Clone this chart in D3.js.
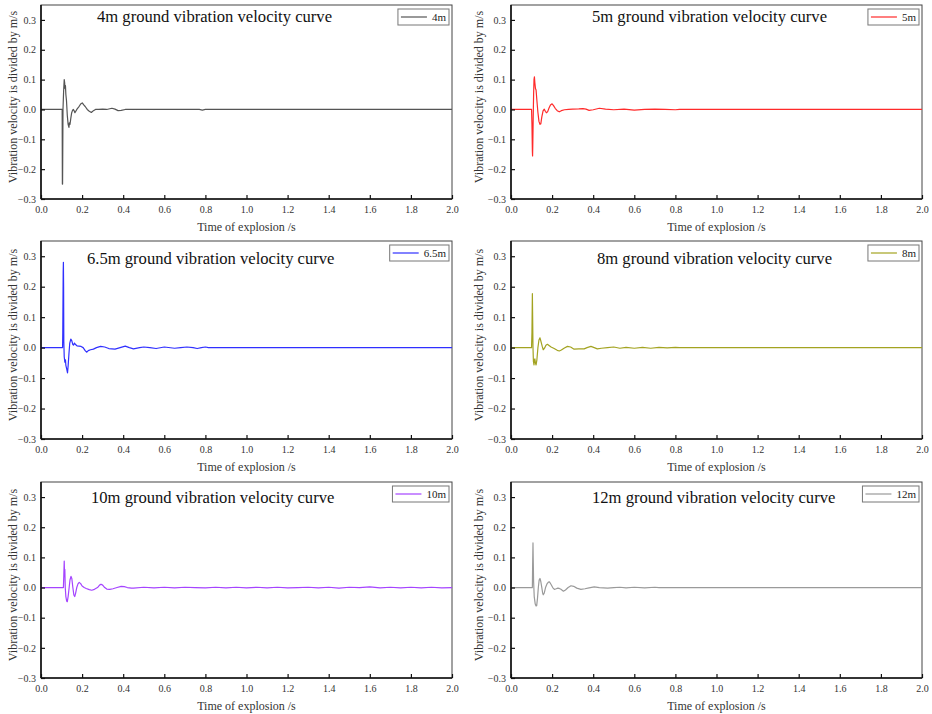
<!DOCTYPE html>
<html>
<head>
<meta charset="utf-8">
<script src="https://cdn.jsdelivr.net/npm/d3@7"></script>
<style>
  html, body { margin: 0; padding: 0; background: #fff; }
  svg { display: block; }
  text { font-family: "Liberation Serif", "Times New Roman", serif; }
</style>
</head>
<body>
<svg id="chart" width="932" height="714"></svg>
<script>
// ---------------- DATA ----------------
const seriesNames = ["4m", "5m", "6.5m", "8m", "10m", "12m"];
const titleTexts = [
  "4m ground vibration velocity curve",
  "5m ground vibration velocity curve",
  "6.5m ground vibration velocity curve",
  "8m ground vibration velocity curve",
  "10m ground vibration velocity curve",
  "12m ground vibration velocity curve"
];
const xTicks = [0.0, 0.2, 0.4, 0.6, 0.8, 1.0, 1.2, 1.4, 1.6, 1.8, 2.0];
const yTicks = [-0.3, -0.2, -0.1, 0.0, 0.1, 0.2, 0.3];
const xLabel = "Time of explosion /s";
const yLabel = "Vibration velocity is divided by m/s";

// [time (s), velocity (m/s)]
const wave4m = [[0,0],[0.103,0],[0.104,-0.25],[0.105,-0.25],[0.107,0.0],[0.110,0.06],[0.113,0.1],[0.115,0.09],[0.117,0.07],[0.119,0.08],[0.121,0.05],[0.124,0.03],[0.128,-0.02],[0.132,-0.05],[0.136,-0.06],[0.138,-0.045],[0.141,-0.05],[0.145,-0.03],[0.149,-0.012],[0.153,-0.004],[0.157,0],[0.161,-0.004],[0.165,-0.011],[0.170,-0.005],[0.176,0.002],[0.183,0.008],[0.190,0.015],[0.196,0.02],[0.201,0.022],[0.207,0.016],[0.215,0.01],[0.225,0.0],[0.235,-0.006],[0.245,-0.01],[0.255,-0.004],[0.265,0],[0.28,0],[0.30,0.001],[0.32,0],[0.345,0.004],[0.36,0.001],[0.375,-0.004],[0.39,-0.003],[0.41,0],[0.43,0],[0.5,0],[0.6,0],[0.7,0],[0.77,0],[0.785,-0.002],[0.8,0],[0.88,0],[2.0,0]];
const wave5m = [[0,0],[0.1,0],[0.102,-0.05],[0.104,-0.14],[0.105,-0.156],[0.106,-0.12],[0.108,-0.03],[0.110,0.05],[0.112,0.1],[0.114,0.109],[0.116,0.09],[0.119,0.07],[0.122,0.065],[0.126,0.03],[0.131,-0.01],[0.136,-0.04],[0.141,-0.05],[0.145,-0.048],[0.150,-0.025],[0.156,-0.005],[0.162,0.001],[0.167,-0.006],[0.172,-0.011],[0.178,-0.008],[0.185,0.005],[0.192,0.015],[0.2,0.019],[0.207,0.013],[0.215,0.004],[0.225,-0.004],[0.235,-0.008],[0.245,-0.004],[0.26,-0.001],[0.28,0],[0.3,0.001],[0.33,0.002],[0.35,0.003],[0.365,0.001],[0.38,-0.003],[0.4,-0.001],[0.43,0.004],[0.46,0.001],[0.5,-0.001],[0.55,0.001],[0.6,-0.002],[0.65,0],[0.7,0.001],[0.75,0],[0.8,-0.001],[0.82,0],[2.0,0]];
const wave65m = [[0,0],[0.105,0],[0.106,0.05],[0.108,0.25],[0.109,0.28],[0.110,0.2],[0.111,0.02],[0.113,-0.03],[0.116,-0.048],[0.119,-0.04],[0.121,-0.058],[0.125,-0.07],[0.129,-0.083],[0.132,-0.06],[0.136,-0.02],[0.14,0.015],[0.145,0.028],[0.15,0.022],[0.155,0.01],[0.158,0.008],[0.163,0.015],[0.168,0.01],[0.175,0.006],[0.185,0.005],[0.195,0.004],[0.205,0.0],[0.215,-0.01],[0.222,-0.015],[0.23,-0.01],[0.241,-0.007],[0.255,-0.005],[0.27,0],[0.29,0.004],[0.31,0.002],[0.33,-0.003],[0.36,-0.005],[0.385,0],[0.41,0.005],[0.43,0],[0.45,-0.004],[0.48,0],[0.5,0.002],[0.53,0],[0.56,-0.003],[0.6,0.002],[0.65,-0.002],[0.68,0],[0.71,0.002],[0.74,0],[0.76,-0.003],[0.78,0],[0.8,0.002],[0.815,0],[2.0,0]];
const wave8m = [[0,0],[0.1,0],[0.102,0.05],[0.104,0.177],[0.105,0.12],[0.107,0.0],[0.109,-0.045],[0.112,-0.057],[0.114,-0.04],[0.116,-0.037],[0.119,-0.05],[0.122,-0.057],[0.126,-0.04],[0.131,0.0],[0.136,0.025],[0.141,0.032],[0.146,0.02],[0.152,0.004],[0.157,-0.007],[0.163,-0.002],[0.17,0.008],[0.177,0.011],[0.185,0.007],[0.195,0.002],[0.21,-0.003],[0.225,-0.009],[0.235,-0.011],[0.245,-0.008],[0.26,-0.001],[0.275,0.004],[0.29,0.002],[0.307,-0.005],[0.33,-0.004],[0.356,-0.004],[0.37,0],[0.389,0.004],[0.405,0],[0.42,-0.004],[0.44,-0.002],[0.47,0],[0.5,0.002],[0.53,-0.002],[0.56,0.001],[0.6,-0.002],[0.64,0.001],[0.68,-0.002],[0.72,0.001],[0.76,-0.001],[0.8,0.001],[0.82,0],[2.0,0]];
const wave10m = [[0,0],[0.109,0],[0.111,0.04],[0.113,0.088],[0.114,0.06],[0.116,0.06],[0.118,0.0],[0.121,-0.03],[0.125,-0.045],[0.128,-0.047],[0.132,-0.03],[0.137,0.0],[0.141,0.025],[0.146,0.037],[0.15,0.03],[0.155,0.0],[0.16,-0.025],[0.164,-0.03],[0.168,-0.02],[0.174,0.0],[0.18,0.012],[0.186,0.017],[0.193,0.013],[0.2,0.005],[0.21,0.0],[0.22,-0.003],[0.235,-0.007],[0.247,-0.009],[0.26,-0.006],[0.275,0.0],[0.285,0.008],[0.292,0.011],[0.3,0.008],[0.31,0.0],[0.32,-0.005],[0.335,-0.006],[0.35,-0.004],[0.37,0.0],[0.39,0.004],[0.405,0.003],[0.42,0.0],[0.44,-0.002],[0.45,-0.002],[0.5,0.001],[0.55,-0.001],[0.6,0.001],[0.65,-0.001],[0.7,0.001],[0.75,0],[0.8,-0.001],[0.85,0.001],[0.9,-0.001],[0.95,0.001],[1.0,-0.001],[1.05,0.001],[1.1,-0.001],[1.15,0.001],[1.2,-0.001],[1.25,0],[1.3,0.001],[1.35,-0.001],[1.4,0.001],[1.45,-0.002],[1.5,0.001],[1.55,0],[1.6,0.002],[1.65,-0.001],[1.7,0.001],[1.75,-0.001],[1.8,0.001],[1.85,-0.001],[1.9,0.001],[1.95,-0.001],[2.0,0]];
const wave12m = [[0,0],[0.104,0],[0.105,0.06],[0.107,0.148],[0.108,0.1],[0.11,0.02],[0.113,-0.03],[0.118,-0.055],[0.122,-0.061],[0.125,-0.06],[0.129,-0.035],[0.133,0.0],[0.137,0.025],[0.141,0.03],[0.145,0.02],[0.15,0.0],[0.154,-0.018],[0.157,-0.024],[0.162,-0.018],[0.168,0.0],[0.175,0.012],[0.182,0.018],[0.187,0.019],[0.195,0.01],[0.203,0.0],[0.211,-0.006],[0.22,-0.004],[0.228,-0.002],[0.235,-0.003],[0.243,-0.006],[0.255,-0.012],[0.265,-0.008],[0.278,0.0],[0.292,0.006],[0.305,0.004],[0.32,-0.002],[0.34,-0.006],[0.36,-0.004],[0.38,-0.001],[0.405,0.002],[0.43,0],[0.47,-0.002],[0.5,0],[0.53,0.001],[0.56,-0.001],[0.6,0.001],[0.65,-0.001],[0.7,0.001],[0.72,0],[2.0,0]];
const waves = [wave4m, wave5m, wave65m, wave8m, wave10m, wave12m];

// ---------------- STYLE / LAYOUT ----------------
const colors = ["#555555", "#ff2a2a", "#3030ff", "#a3a321", "#a544ff", "#9a9a9a"];
const panels = [
  {left: 41,  right: 452, top: 5,   bottom: 199, labelX: 13,  titleX: 97,  titleY: 22},
  {left: 511, right: 922, top: 5,   bottom: 199, labelX: 479, titleX: 592, titleY: 22},
  {left: 41,  right: 452, top: 241, bottom: 439, labelX: 13,  titleX: 87,  titleY: 264},
  {left: 511, right: 922, top: 241, bottom: 439, labelX: 479, titleX: 597, titleY: 264},
  {left: 41,  right: 452, top: 482, bottom: 678, labelX: 13,  titleX: 91,  titleY: 503},
  {left: 511, right: 922, top: 482, bottom: 678, labelX: 479, titleX: 592, titleY: 503}
];

const svg = d3.select("#chart");

panels.forEach((p, i) => {
  const x = d3.scaleLinear().domain([0, 2.0]).range([p.left, p.right]);
  const y = d3.scaleLinear().domain([-0.3, 0.35]).range([p.bottom, p.top]);
  const g = svg.append("g");

  // frame
  g.append("rect")
    .attr("x", p.left).attr("y", p.top)
    .attr("width", p.right - p.left).attr("height", p.bottom - p.top)
    .attr("fill", "none").attr("stroke", "#444").attr("stroke-width", 1);

  // data line
  const line = d3.line().x(d => x(d[0])).y(d => y(d[1]));
  g.append("path")
    .datum(waves[i])
    .attr("d", line)
    .attr("fill", "none")
    .attr("stroke", colors[i])
    .attr("stroke-width", 1.2)
    .attr("stroke-linejoin", "round");

  // axes
  const xAxis = d3.axisBottom(x).tickValues(xTicks).tickFormat(d3.format(".1f"))
    .tickSizeInner(-4).tickSizeOuter(0).tickPadding(7);
  const yAxis = d3.axisLeft(y).tickValues(yTicks).tickFormat(d3.format(".1f"))
    .tickSizeInner(-4).tickSizeOuter(0).tickPadding(5);

  const gx = g.append("g").attr("transform", `translate(0,${p.bottom})`).call(xAxis);
  const gy = g.append("g").attr("transform", `translate(${p.left},0)`).call(yAxis);
  [gx, gy].forEach(a => {
    a.select(".domain").remove();
    a.selectAll(".tick line").attr("stroke", "#111").attr("stroke-width", 1.2);
    a.selectAll(".tick text")
      .attr("fill", "#333")
      .style("font-family", '"Liberation Serif", "Times New Roman", serif')
      .style("font-size", "10px");
  });
  // thicker left & bottom axis lines
  g.append("line").attr("x1", p.left).attr("x2", p.left).attr("y1", p.top).attr("y2", p.bottom)
    .attr("stroke", "#111").attr("stroke-width", 1.6);
  g.append("line").attr("x1", p.left).attr("x2", p.right).attr("y1", p.bottom).attr("y2", p.bottom)
    .attr("stroke", "#111").attr("stroke-width", 1.6);

  // axis titles
  g.append("text")
    .attr("x", (p.left + p.right) / 2).attr("y", p.bottom + 32)
    .attr("text-anchor", "middle")
    .attr("fill", "#333").style("font-size", "12px")
    .text(xLabel);
  const cy = (p.top + p.bottom) / 2 - 5;
  g.append("text")
    .attr("transform", `translate(${p.labelX + 4},${cy}) rotate(-90)`)
    .attr("text-anchor", "middle")
    .attr("fill", "#333").style("font-size", "12px")
    .text(yLabel);

  // panel title
  g.append("text")
    .attr("x", p.titleX).attr("y", p.titleY)
    .attr("fill", "#111").style("font-size", "16.6px")
    .text(titleTexts[i]);

  // legend
  const lg = g.append("g");
  const txt = lg.append("text")
    .attr("y", p.top + 4 + 12)
    .attr("text-anchor", "end")
    .attr("x", p.right - 6)
    .attr("fill", "#222").style("font-size", "11px")
    .text(seriesNames[i]);
  const tw = txt.node().getComputedTextLength();
  const boxRight = p.right - 3;
  const boxLeft = boxRight - 3 - tw - 5 - 26 - 3;
  lg.insert("rect", "text")
    .attr("x", boxLeft).attr("y", p.top + 4)
    .attr("width", boxRight - boxLeft).attr("height", 16)
    .attr("fill", "#fff").attr("stroke", "#777").attr("stroke-width", 1);
  lg.append("line")
    .attr("x1", boxLeft + 3).attr("x2", boxLeft + 29)
    .attr("y1", p.top + 12).attr("y2", p.top + 12)
    .attr("stroke", colors[i]).attr("stroke-width", 1.2);
});
</script>
</body>
</html>
